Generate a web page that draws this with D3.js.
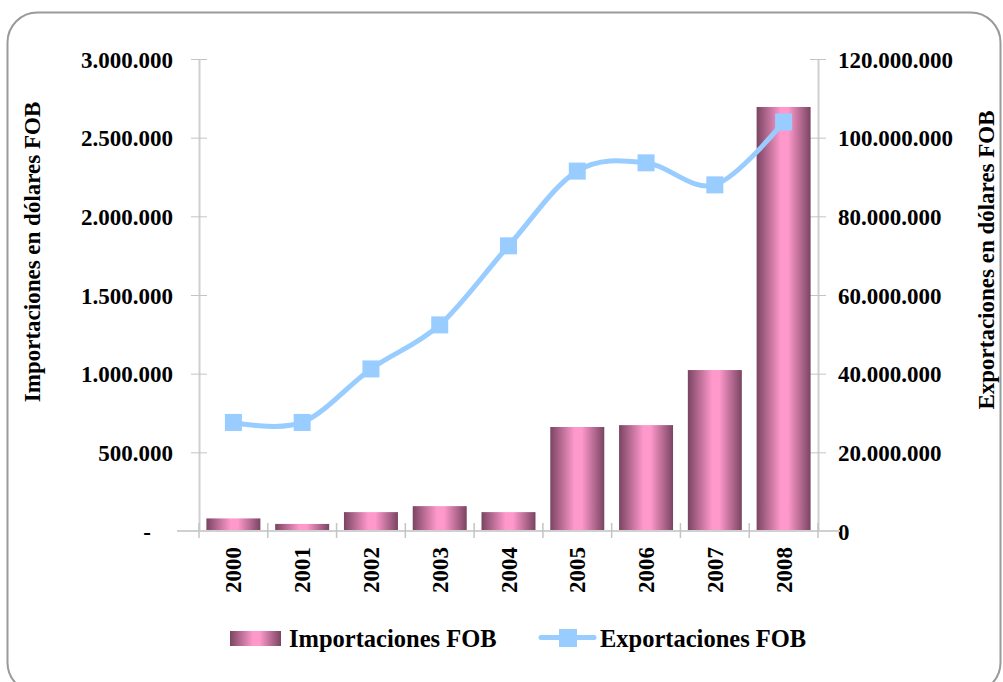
<!DOCTYPE html>
<html>
<head>
<meta charset="utf-8">
<script src="https://cdn.jsdelivr.net/npm/d3@7"></script>
<style>
  body { margin: 0; background: #fff; }
  text { font-family: "Liberation Serif", "DejaVu Serif", serif; font-weight: bold; fill: #000; }
</style>
</head>
<body>
<svg id="chart" width="1003" height="682"></svg>
<script>
var years = ["2000","2001","2002","2003","2004","2005","2006","2007","2008"];
var importaciones = [80000, 45000, 120000, 158000, 120000, 661000, 673000, 1023000, 2695000];
var exportaciones = [27600000, 27600000, 41200000, 52400000, 72500000, 91500000, 93600000, 88000000, 104000000];
var leftTicks = [0, 500000, 1000000, 1500000, 2000000, 2500000, 3000000];
var rightTicks = [0, 20000000, 40000000, 60000000, 80000000, 100000000, 120000000];

var svg = d3.select("#chart");

var plotLeft = 199, plotRight = 818, plotTop = 59, plotBottom = 531;

// marco redondeado
svg.append("rect")
    .attr("x", 7.5).attr("y", 12.5)
    .attr("width", 993).attr("height", 680)
    .attr("rx", 30)
    .attr("fill", "#fff")
    .attr("stroke", "#9a9a9a")
    .attr("stroke-width", 2);

var defs = svg.append("defs");
var grad = defs.append("linearGradient")
    .attr("id", "barGrad")
    .attr("x1", "0%").attr("x2", "100%").attr("y1", "0%").attr("y2", "0%");
grad.append("stop").attr("offset", "0%").attr("stop-color", "#7a4462");
grad.append("stop").attr("offset", "45%").attr("stop-color", "#ff99cc");
grad.append("stop").attr("offset", "58%").attr("stop-color", "#ff99cc");
grad.append("stop").attr("offset", "100%").attr("stop-color", "#7a4462");

var x = d3.scaleBand()
    .domain(years)
    .range([plotLeft, plotRight])
    .paddingInner(0.215)
    .paddingOuter(0.1075);

var yL = d3.scaleLinear().domain([0, 3000000]).range([plotBottom, plotTop]);
var yR = d3.scaleLinear().domain([0, 120000000]).range([plotBottom, plotTop]);

var fmt = function(d) {
  if (d === 0) return "-";
  return d3.format(",")(d).replace(/,/g, ".");
};
var fmtR = function(d) { return d3.format(",")(d).replace(/,/g, "."); };

// eje izquierdo
var axL = svg.append("g")
    .attr("transform", "translate(" + plotLeft + ",0)")
    .call(d3.axisLeft(yL).tickValues(leftTicks).tickFormat(fmt).tickSizeInner(8).tickSizeOuter(0).tickPadding(18));
axL.select(".domain").attr("stroke", "#d0d0d0").attr("stroke-width", 2);
axL.selectAll(".tick line").attr("stroke", "#c4c4c4").attr("x2", 8).attr("x1", -8);
axL.selectAll(".tick text").style("font-size", "23px").attr("dy", "0.35em")
    .attr("dx", function(d) { return d === 0 ? -22 : 0; });

// eje derecho
var axR = svg.append("g")
    .attr("transform", "translate(" + plotRight + ",0)")
    .call(d3.axisRight(yR).tickValues(rightTicks).tickFormat(fmtR).tickSizeInner(8).tickSizeOuter(0).tickPadding(12));
axR.select(".domain").attr("stroke", "#d0d0d0").attr("stroke-width", 2);
axR.selectAll(".tick line").attr("stroke", "#c4c4c4").attr("x1", -8).attr("x2", 8);
axR.selectAll(".tick text").style("font-size", "23px").attr("dy", "0.35em");

// barras
svg.selectAll(".bar")
    .data(importaciones)
    .enter().append("rect")
    .attr("class", "bar")
    .attr("x", function(d, i) { return x(years[i]); })
    .attr("width", x.bandwidth())
    .attr("y", function(d) { return yL(d); })
    .attr("height", function(d) { return plotBottom - yL(d); })
    .attr("fill", "url(#barGrad)");

// eje x
var step = x.step();
var axX = svg.append("g");
axX.append("line")
    .attr("x1", plotLeft - 22).attr("x2", plotRight + 22)
    .attr("y1", plotBottom).attr("y2", plotBottom)
    .attr("stroke", "#d0d0d0").attr("stroke-width", 2);
axX.selectAll(".xt")
    .data(d3.range(years.length + 1))
    .enter().append("line")
    .attr("x1", function(i) { return plotLeft + i * step; })
    .attr("x2", function(i) { return plotLeft + i * step; })
    .attr("y1", plotBottom - 8).attr("y2", plotBottom + 7)
    .attr("stroke", "#c4c4c4").attr("stroke-width", 1.5);
axX.selectAll(".xl")
    .data(years)
    .enter().append("text")
    .attr("transform", function(d) { return "translate(" + (x(d) + x.bandwidth() / 2) + "," + (plotBottom + 16) + ") rotate(-90)"; })
    .attr("text-anchor", "end")
    .attr("dy", "0.35em")
    .style("font-size", "23px")
    .text(function(d) { return d; });

// linea exportaciones
var line = d3.line()
    .x(function(d, i) { return x(years[i]) + x.bandwidth() / 2; })
    .y(function(d) { return yR(d); })
    .curve(d3.curveCardinal.tension(0));

svg.append("path")
    .datum(exportaciones)
    .attr("d", line)
    .attr("fill", "none")
    .attr("stroke", "#99ccff")
    .attr("stroke-width", 5)
    .attr("stroke-linecap", "round");

svg.selectAll(".mk")
    .data(exportaciones)
    .enter().append("rect")
    .attr("class", "mk")
    .attr("x", function(d, i) { return x(years[i]) + x.bandwidth() / 2 - 8.5; })
    .attr("y", function(d) { return yR(d) - 8.5; })
    .attr("width", 17).attr("height", 17)
    .attr("fill", "#99ccff");

// titulos de ejes
svg.append("text")
    .attr("transform", "translate(32,252) rotate(-90)")
    .attr("text-anchor", "middle")
    .attr("dy", "0.35em")
    .style("font-size", "23px")
    .text("Importaciones en dólares FOB");

svg.append("text")
    .attr("transform", "translate(986,260) rotate(-90)")
    .attr("text-anchor", "middle")
    .attr("dy", "0.35em")
    .style("font-size", "23px")
    .text("Exportaciones en dólares FOB");

// leyenda
var lg = svg.append("g");
lg.append("rect")
    .attr("x", 230).attr("y", 631).attr("width", 51).attr("height", 15)
    .attr("fill", "url(#barGrad)");
lg.append("text")
    .attr("x", 289).attr("y", 647)
    .style("font-size", "24.5px")
    .text("Importaciones FOB");
lg.append("line")
    .attr("x1", 541).attr("x2", 594).attr("y1", 637.5).attr("y2", 637.5)
    .attr("stroke", "#99ccff").attr("stroke-width", 5).attr("stroke-linecap", "round");
lg.append("rect")
    .attr("x", 559).attr("y", 629).attr("width", 18).attr("height", 18)
    .attr("fill", "#99ccff");
lg.append("text")
    .attr("x", 600).attr("y", 647)
    .style("font-size", "24.5px")
    .text("Exportaciones FOB");
</script>
</body>
</html>
